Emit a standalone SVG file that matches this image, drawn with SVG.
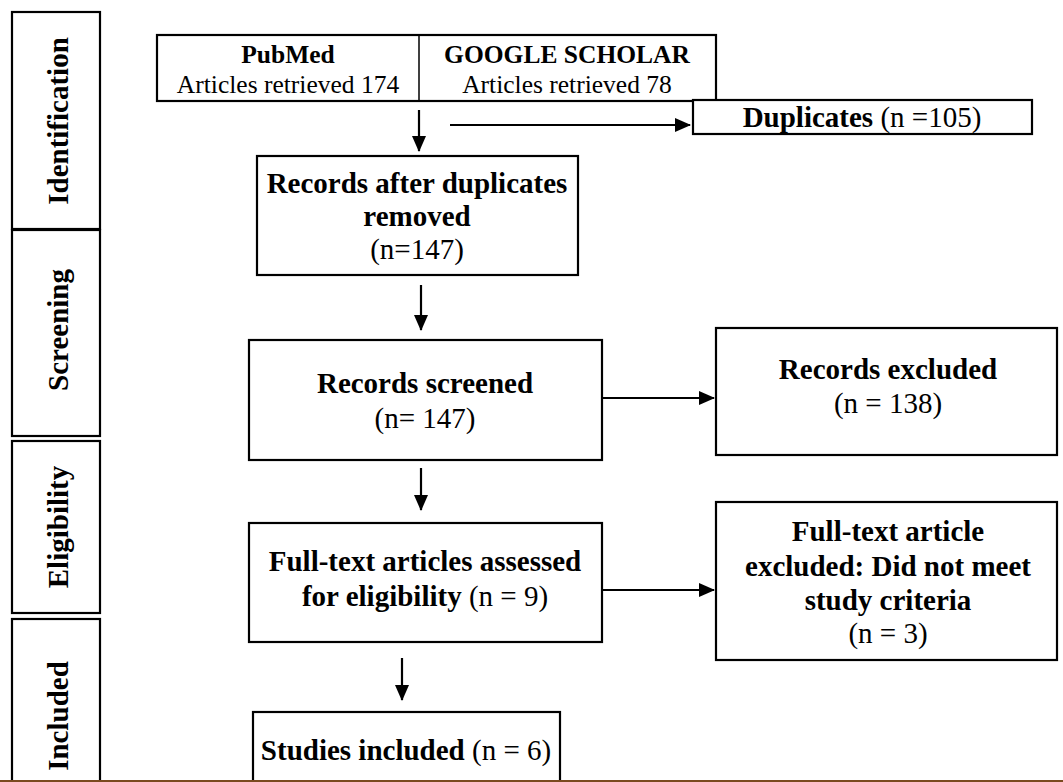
<svg xmlns="http://www.w3.org/2000/svg" width="1063" height="782" viewBox="0 0 1063 782">
<style>
.box{fill:#fff;stroke:#000;stroke-width:2.2}
.t{font-family:"Liberation Serif","Times New Roman",serif;font-size:29px;fill:#000;text-anchor:middle}
.ts{font-family:"Liberation Serif","Times New Roman",serif;font-size:25.5px;fill:#000;text-anchor:middle}
.b{font-weight:bold}
.c{stroke:#000;stroke-width:2.2;fill:none}
</style>
<defs>
<marker id="ah" markerWidth="16" markerHeight="14" refX="15" refY="7" orient="auto" markerUnits="userSpaceOnUse">
<path d="M0,0 L16,7 L0,14 Z" fill="#000"/>
</marker>
</defs>
<rect width="1063" height="782" fill="#fff"/>

<g id="phase-identification">
<rect class="box" x="12" y="12" width="88" height="217"/>
<text class="t b" transform="translate(68,121) rotate(-90)">Identification</text>
</g>
<g id="phase-screening">
<rect class="box" x="12" y="230" width="88" height="206"/>
<text class="t b" transform="translate(68,330) rotate(-90)">Screening</text>
</g>
<g id="phase-eligibility">
<rect class="box" x="12" y="441" width="88" height="172"/>
<text class="t b" transform="translate(68,527) rotate(-90)">Eligibility</text>
</g>
<g id="phase-included">
<rect class="box" x="12" y="619" width="88" height="180"/>
<text class="t b" transform="translate(68,716) rotate(-90)">Included</text>
</g>

<g id="sources">
<rect class="box" x="157" y="35" width="559" height="66"/>
<line x1="419" y1="35" x2="419" y2="101" stroke="#000" stroke-width="1.5"/>
<text class="ts b" x="288" y="63">PubMed</text>
<text class="ts" x="288" y="93">Articles retrieved 174</text>
<text class="ts b" x="567" y="63">GOOGLE SCHOLAR</text>
<text class="ts" x="567" y="93">Articles retrieved 78</text>
</g>

<g id="duplicates">
<rect class="box" x="693" y="100" width="339" height="34"/>
<text class="t" x="862" y="127"><tspan class="b">Duplicates</tspan> (n =105)</text>
</g>

<g id="after-dup">
<rect class="box" x="257" y="156" width="321" height="119"/>
<text class="t b" x="417" y="193">Records after duplicates</text>
<text class="t b" x="417" y="226">removed</text>
<text class="t" x="417" y="259">(n=147)</text>
</g>

<g id="screened">
<rect class="box" x="249" y="340" width="353" height="120"/>
<text class="t b" x="425" y="393">Records screened</text>
<text class="t" x="425" y="428">(n= 147)</text>
</g>

<g id="rec-excluded">
<rect class="box" x="716" y="328" width="341" height="127"/>
<text class="t b" x="888" y="379">Records excluded</text>
<text class="t" x="888" y="413">(n = 138)</text>
</g>

<g id="fulltext">
<rect class="box" x="249" y="523" width="353" height="119"/>
<text class="t b" x="425" y="571">Full-text articles assessed</text>
<text class="t" x="425" y="606"><tspan class="b">for eligibility</tspan> (n = 9)</text>
</g>

<g id="ft-excluded">
<rect class="box" x="716" y="502" width="341" height="158"/>
<text class="t b" x="888" y="541">Full-text article</text>
<text class="t b" x="888" y="576">excluded: Did not meet</text>
<text class="t b" x="888" y="610">study criteria</text>
<text class="t" x="888" y="643">(n = 3)</text>
</g>

<g id="included">
<rect class="box" x="253" y="712" width="307" height="90"/>
<text class="t" x="406" y="760"><tspan class="b">Studies included</tspan> (n = 6)</text>
</g>

<g id="connectors">
<line class="c" x1="419" y1="110" x2="419" y2="151" marker-end="url(#ah)"/>
<line class="c" x1="450" y1="125" x2="690" y2="125" marker-end="url(#ah)"/>
<line class="c" x1="421" y1="285" x2="421" y2="330" marker-end="url(#ah)"/>
<line class="c" x1="602" y1="398" x2="714" y2="398" marker-end="url(#ah)"/>
<line class="c" x1="421" y1="468" x2="421" y2="510" marker-end="url(#ah)"/>
<line class="c" x1="602" y1="590" x2="714" y2="590" marker-end="url(#ah)"/>
<line class="c" x1="402" y1="658" x2="402" y2="700" marker-end="url(#ah)"/>
</g>

<line x1="0" y1="781" x2="1063" y2="781" stroke="#7a4a1f" stroke-width="2"/>
</svg>
